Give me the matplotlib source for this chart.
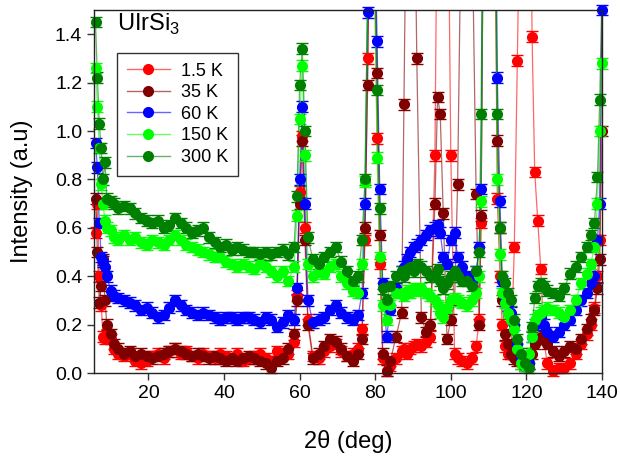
import matplotlib
matplotlib.use('Agg')
import matplotlib.pyplot as plt
from matplotlib.lines import Line2D
import numpy as np

plt.rcParams['font.family'] = ['Liberation Sans', 'DejaVu Sans']
plt.rcParams['mathtext.fontset'] = 'custom'
plt.rcParams['mathtext.rm'] = 'Liberation Sans'

# 2theta grid (deg), denser around the peaks
two_theta = [6, 6.5, 7, 7.5, 8, 8.5, 9, 10, 11, 12, 13.5, 15, 16.5, 18, 19.5, 21, 22.5, 24, 25.5, 27,
             28.5, 30, 31.5, 33, 34.5, 36, 37.5, 39, 40.5, 42, 43.5, 45, 46.5, 48, 49.5, 51, 52.5, 54,
             55.5, 57, 58.5,
             59.3, 60.0, 60.7, 61.4, 62.2,
             63.5, 65, 66.5, 68, 69.5, 71, 72.5, 74, 75.5, 76.5,
             77.3, 78.0, 78.8, 79.6, 80.5, 81.2, 82.0,
             83, 84, 85.5, 87, 87.6, 88.5, 89.3, 90.2, 91, 92.2, 93.5, 94.6, 95.8, 96.5, 97.2, 98, 99,
             100, 101, 101.8, 103, 104.3, 105.5, 106.7, 107.5,
             108.0, 108.6, 109.2, 110, 111, 111.7, 112.3, 113.0, 113.6, 114.3,
             115, 116, 116.8, 117.6, 118.5, 119.5, 120.7, 121.5, 122.2, 123, 123.8, 124.6, 125.5, 127,
             128.5, 130, 131.5, 133, 134.5, 136, 137, 138, 138.8, 139.4, 140]

i_1p5K = [0.58, 0.70, 0.40, 0.28, 0.15, 0.14, 0.16, 0.14, 0.10, 0.08, 0.07, 0.08, 0.05, 0.04, 0.05, 0.07,
          0.08, 0.06, 0.09, 0.10, 0.08, 0.09, 0.07, 0.06, 0.08, 0.07, 0.06, 0.08, 0.07, 0.06, 0.08, 0.05,
          0.06, 0.07, 0.08, 0.06, 0.05, 0.09, 0.08, 0.08, 0.13,
          0.32, 0.75, 0.98, 0.60, 0.22,
          0.07, 0.06, 0.09, 0.11, 0.12, 0.09, 0.07, 0.08, 0.10, 0.18,
          0.55, 1.30, 2.4, 1.9, 0.97, 0.45, 0.06,
          0.01, 0.03, 0.06, 0.09, 0.10, 0.08, 0.10, 0.11, 0.12, 0.11, 0.13, 0.15, 0.90, 2.2, 2.8, 2.9,
          2.5, 0.90, 0.08, 0.06, 0.05, 0.04, 0.06, 0.11, 0.22,
          0.62, 1.9, 2.8, 2.6, 2.8, 1.9, 0.72, 0.40, 0.20, 0.11,
          0.08, 0.10, 0.52, 1.29, 2.2, 2.8, 2.6, 1.39, 0.83, 0.63, 0.43, 0.14, 0.04, 0.01, 0.02, 0.02,
          0.04, 0.08, 0.12, 0.16, 0.20, 0.27, 0.40, 0.55, 1.6]

i_35K = [0.72, 0.50, 0.29, 0.36, 0.47, 0.30, 0.20, 0.16, 0.12, 0.10, 0.08, 0.09, 0.07, 0.08, 0.07, 0.06,
         0.07, 0.08, 0.09, 0.10, 0.09, 0.08, 0.07, 0.08, 0.07, 0.06, 0.07, 0.06, 0.05, 0.06, 0.05, 0.06,
         0.07, 0.06, 0.05, 0.04, 0.02, 0.05, 0.06, 0.10, 0.16,
         0.30, 0.70, 0.96, 0.55, 0.20,
         0.06, 0.08, 0.11, 0.14, 0.13, 0.10, 0.07, 0.05, 0.08, 0.14,
         0.60, 1.19, 2.3, 2.0, 1.24, 0.57, 0.08,
         0.01, 0.05, 0.15, 0.25, 1.11, 2.4, 2.8, 2.3, 1.30, 0.23, 0.17, 0.20, 0.70, 1.14, 1.07, 0.66,
         0.14, 0.22, 0.30, 0.78, 2.2, 2.6, 2.0, 0.74, 0.20,
         0.65, 1.9, 2.7, 2.5, 2.7, 2.0, 0.96, 0.60, 0.30, 0.16,
         0.12, 0.08, 0.06, 0.05, 0.04, 0.03, 0.04, 0.08, 0.12, 0.14, 0.15, 0.14, 0.12, 0.09, 0.07, 0.09,
         0.11, 0.10, 0.14, 0.18, 0.22, 0.26, 0.35, 0.47, 1.0]

i_60K = [0.95, 0.85, 0.62, 0.48, 0.46, 0.44, 0.40, 0.34, 0.32, 0.31, 0.30, 0.29, 0.28, 0.26, 0.27, 0.25,
         0.23, 0.24, 0.27, 0.30, 0.28, 0.26, 0.25, 0.24, 0.25, 0.24, 0.23, 0.22, 0.23, 0.23, 0.22, 0.23,
         0.23, 0.22, 0.21, 0.23, 0.22, 0.19, 0.21, 0.24, 0.22,
         0.35, 0.80, 1.10, 0.70, 0.30,
         0.21, 0.22, 0.23, 0.26, 0.28, 0.25, 0.23, 0.22, 0.24, 0.33,
         0.70, 1.49, 2.6, 2.1, 1.37, 0.76, 0.37,
         0.15, 0.26, 0.35, 0.42, 0.44, 0.47, 0.50, 0.52, 0.53, 0.55, 0.57, 0.59, 0.60, 0.61, 0.58, 0.48,
         0.45, 0.55, 0.58, 0.48, 0.44, 0.40, 0.38, 0.42, 0.52,
         0.76, 2.1, 3.0, 2.8, 3.0, 2.3, 1.22, 0.71, 0.38, 0.30,
         0.28, 0.25, 0.20, 0.12, 0.06, 0.03, 0.04, 0.15, 0.20, 0.22, 0.23, 0.20, 0.17, 0.15, 0.17, 0.20,
         0.22, 0.26, 0.30, 0.33, 0.37, 0.40, 0.55, 0.70, 1.5]

i_150K = [1.26, 1.10, 0.93, 0.78, 0.70, 0.63, 0.60, 0.59, 0.56, 0.55, 0.57, 0.55, 0.56, 0.54, 0.53, 0.55,
          0.54, 0.53, 0.55, 0.57, 0.55, 0.53, 0.52, 0.51, 0.50, 0.49, 0.48, 0.48, 0.46, 0.45, 0.44, 0.45,
          0.44, 0.43, 0.45, 0.44, 0.42, 0.40, 0.42, 0.38, 0.44,
          0.65, 1.05, 1.27, 0.90, 0.45,
          0.40, 0.42, 0.41, 0.44, 0.45, 0.40, 0.37, 0.34, 0.33, 0.45,
          0.79, 1.55, 2.4, 1.9, 0.89, 0.48, 0.28,
          0.22, 0.28, 0.33, 0.33, 0.32, 0.34, 0.33, 0.35, 0.34, 0.35, 0.33, 0.32, 0.30, 0.28, 0.25, 0.23,
          0.27, 0.30, 0.31, 0.30, 0.29, 0.28, 0.30, 0.33, 0.40,
          0.71, 2.0, 2.9, 2.7, 2.9, 2.0, 0.80, 0.49, 0.33, 0.29,
          0.25, 0.22, 0.18, 0.10, 0.04, 0.03, 0.08, 0.15, 0.22, 0.24, 0.25, 0.26, 0.27, 0.26, 0.25, 0.23,
          0.26, 0.30, 0.37, 0.41, 0.45, 0.52, 0.70, 1.0, 1.28]

i_300K = [1.45, 1.22, 1.03, 0.93, 0.80, 0.87, 0.72, 0.71, 0.70, 0.68, 0.69, 0.68, 0.66, 0.64, 0.63, 0.62,
          0.63, 0.60, 0.61, 0.64, 0.62, 0.60, 0.58, 0.59, 0.60, 0.56, 0.54, 0.52, 0.53, 0.51, 0.52, 0.51,
          0.50, 0.50, 0.49, 0.50, 0.49, 0.50, 0.51, 0.49, 0.52,
          0.73, 1.19, 1.34, 1.00, 0.56,
          0.47, 0.45, 0.48, 0.50, 0.52, 0.46, 0.42, 0.38, 0.40, 0.55,
          0.80, 1.60, 2.5, 2.0, 1.17, 0.68, 0.35,
          0.30, 0.36, 0.40, 0.42, 0.40, 0.43, 0.44, 0.42, 0.45, 0.44, 0.42, 0.40, 0.40, 0.43, 0.38, 0.35,
          0.37, 0.40, 0.42, 0.40, 0.38, 0.38, 0.36, 0.42, 0.50,
          1.07, 2.2, 3.0, 2.8, 3.0, 2.2, 1.07, 0.60, 0.40, 0.37,
          0.33, 0.30, 0.22, 0.14, 0.08, 0.04, 0.02, 0.19, 0.31, 0.36, 0.37, 0.36, 0.34, 0.33, 0.32, 0.35,
          0.41, 0.44, 0.48, 0.52, 0.57, 0.62, 0.81, 1.13, 1.6]

labels = ['1.5 K', '35 K', '60 K', '150 K', '300 K']
colors = ['#ff0000', '#800000', '#0000ff', '#00ff00', '#008000']
series = [i_1p5K, i_35K, i_60K, i_150K, i_300K]

fig = plt.figure(figsize=(6.2, 4.59), dpi=100)
ax = fig.add_axes([94/620, 86/459, 508/620, 363/459])

x = np.array(two_theta)
for y, c in zip(series, colors):
    y = np.array(y)
    ax.plot(x, y, '-', color=c, lw=0.9, alpha=0.6)
    m = y <= 1.5
    ax.errorbar(x[m], y[m], yerr=0.022, fmt='o', ms=7, color=c, mec=c, ecolor=c,
                elinewidth=1.0, capsize=4, capthick=1.0, clip_on=False)

ax.set_xlim(5.6, 140)
ax.set_ylim(0, 1.5)
ax.set_xticks([20, 40, 60, 80, 100, 120, 140])
ax.set_yticks([0.0, 0.2, 0.4, 0.6, 0.8, 1.0, 1.2, 1.4])
ax.set_yticklabels(['%.1f' % v for v in [0.0, 0.2, 0.4, 0.6, 0.8, 1.0, 1.2, 1.4]])
ax.tick_params(direction='out', length=5, width=1, labelsize=14, color='#333333')
for s in ax.spines.values():
    s.set_linewidth(1.0)
    s.set_color('#222222')

ax.set_xlabel('2\u03b8 (deg)', fontsize=17, labelpad=20)
ax.set_ylabel('Intensity (a.u)', fontsize=17, labelpad=16)

ax.text(0.045, 0.942, r'UIrSi$_3$', transform=ax.transAxes, fontsize=17, va='baseline', ha='left')

handles = []
for lab, c in zip(labels, colors):
    rgba = matplotlib.colors.to_rgba(c, 0.6)
    handles.append(Line2D([], [], color=rgba, lw=1.0, marker='o', ms=7, mfc=c, mec=c))
leg = ax.legend(handles, labels, loc='upper left', bbox_to_anchor=(0.045, 0.882), borderaxespad=0,
                fontsize=13, frameon=True, fancybox=False, framealpha=1, edgecolor='#333333',
                handlelength=2.4, handletextpad=0.6, labelspacing=0.25, borderpad=0.55)
leg.get_frame().set_linewidth(1.0)

fig.savefig('out.png', dpi=100)
